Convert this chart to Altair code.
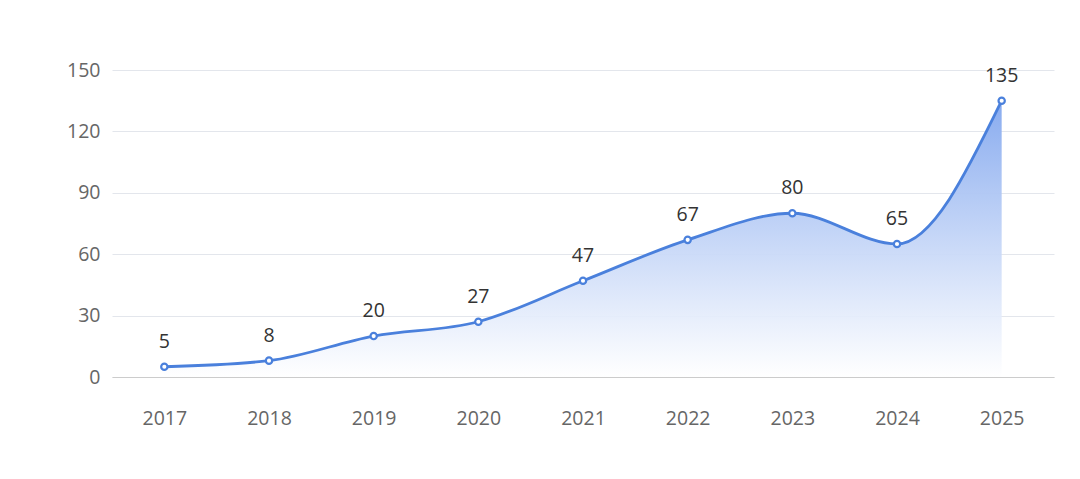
import altair as alt
import pandas as pd

years = ["2017", "2018", "2019", "2020", "2021", "2022", "2023", "2024", "2025"]
values = [5, 8, 20, 27, 47, 67, 80, 65, 135]
y_ticks = [0, 30, 60, 90, 120, 150]

df = pd.DataFrame({"year": years, "value": values})

FONT = "Open Sans"
LINE = "#4a80dc"

x = alt.X("year:N", sort=years, title=None,
          scale=alt.Scale(paddingInner=0, paddingOuter=0.5),
          axis=alt.Axis(labelAngle=0, labelFontSize=19.5, labelColor="#666666",
                        labelPadding=32, ticks=False, domainColor="#cccccc",
                        labelFont=FONT))
y = alt.Y("value:Q", title=None,
          scale=alt.Scale(domain=[0, 150], nice=False),
          axis=alt.Axis(values=y_ticks, labelFontSize=19.5, labelColor="#666666",
                        labelPadding=12, ticks=False, domain=False,
                        gridColor="#e3e6ec", labelFont=FONT))

base = alt.Chart(df).encode(x=x, y=y)

area = base.mark_area(
    interpolate="monotone",
    color=alt.Gradient(
        gradient="linear",
        stops=[alt.GradientStop(color="rgba(255,255,255,0.9)", offset=0),
               alt.GradientStop(color="#88abef", offset=1)],
        x1=1, x2=1, y1=1, y2=0,
    ),
)
line = base.mark_line(interpolate="monotone", color=LINE, strokeWidth=2.8)
pts = base.mark_point(shape="circle", size=40, filled=True, fill="white",
                      stroke=LINE, strokeWidth=2.2, opacity=1)
labels = base.mark_text(dy=-25, fontSize=19.5, color="#333333", font=FONT).encode(
    text="value:Q")

chart = (area + line + pts + labels).properties(
    width=942, height=307,
    background="white",
    autosize=alt.AutoSizeParams(type="none"),
    padding={"left": 104, "top": 62, "right": 10, "bottom": 90},
).configure_view(stroke=None)

chart.save("out.html", embed_options={"renderer": "svg", "actions": False})
